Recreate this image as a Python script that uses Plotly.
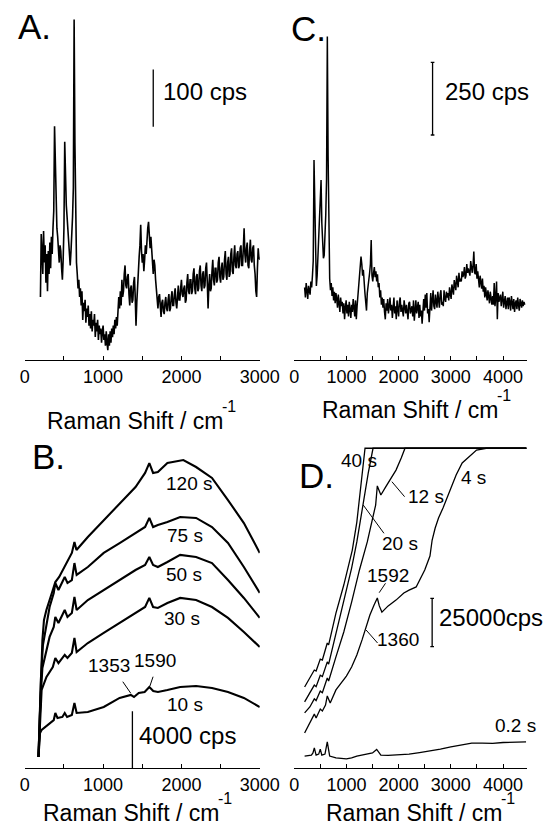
import plotly.graph_objects as go

FONT = "Liberation Sans, Arial, sans-serif"
W, H = 559, 829

# ---------------- Panel A: spectrum (cps), 200-3000 cm-1 every 10 cm-1 ----------------
A_counts = [
    110, 220, 190, 150, 225, 170, 200, 135, 185, 120,
    190, 150, 205, 160, 215, 185, 230, 260, 408, 330,
    260, 230, 215, 195, 170, 200, 190, 160, 140, 175,
    230, 381, 300, 270, 250, 230, 210, 180, 165, 190,
    215, 250, 300, 594, 380, 230, 170, 150, 125, 140,
    110, 125, 95, 120, 70, 100, 85, 105, 65, 90,
    75, 95, 60, 80, 55, 85, 50, 70, 60, 80,
    40, 65, 50, 70, 35, 60, 45, 55, 30, 50,
    60, 35, 45, 25, 50, 30, 17, 45, 25, 50,
    30, 55, 40, 60, 45, 70, 55, 75, 60, 85,
    110, 90, 120, 95, 140, 110, 120, 150, 165, 130,
    125, 145, 150, 115, 95, 125, 130, 100, 105, 135,
    145, 110, 60, 100, 135, 160, 180, 200, 236, 190,
    170, 185, 155, 175, 200, 185, 215, 230, 241, 225,
    195, 215, 185, 170, 150, 175, 165, 140, 120, 105,
    90, 110, 115, 95, 75, 100, 105, 85, 80, 100,
    110, 90, 85, 105, 115, 85, 90, 110, 120, 95,
    95, 115, 125, 100, 90, 110, 130, 105, 105, 125,
    140, 115, 110, 125, 130, 100, 105, 135, 150, 120,
    115, 140, 140, 115, 120, 150, 160, 125, 115, 145,
    150, 120, 125, 155, 165, 130, 120, 150, 155, 125,
    130, 160, 170, 135, 90, 130, 150, 120, 125, 155,
    175, 140, 130, 160, 160, 135, 140, 170, 180, 145,
    135, 160, 170, 140, 145, 175, 190, 150, 140, 170,
    180, 145, 150, 185, 195, 155, 150, 180, 200, 165,
    160, 185, 190, 160, 165, 195, 200, 165, 165, 195,
    230, 185, 170, 195, 205, 165, 160, 190, 210, 175,
    170, 195, 200, 165, 150, 120, 110, 160, 195, 180,
    175,
]
A_shift = list(range(200, 3001, 10))

# ---------------- Panel C: spectrum (cps), 200-4415 cm-1 every 15 cm-1 ----------------
C_counts = [
    250, 215, 265, 230, 210, 255, 240, 225, 270, 250,
    290, 340, 688, 520, 330, 255, 290, 350, 420, 480,
    560, 619, 470, 380, 350, 360, 420, 500, 620, 1113,
    700, 360, 280, 240, 265, 220, 250, 205, 235, 195,
    230, 210, 180, 225, 195, 165, 215, 185, 200, 160,
    195, 140, 180, 205, 160, 190, 150, 200, 175, 145,
    190, 165, 210, 170, 150, 205, 140, 185, 225, 255,
    300, 335, 356, 330, 290, 310, 250, 230, 200, 170,
    230, 250, 270, 300, 330, 413, 290, 270, 300, 320,
    285, 305, 270, 295, 250, 265, 215, 240, 190, 215,
    180, 210, 165, 140, 195, 170, 210, 160, 185, 215,
    170, 190, 145, 200, 215, 160, 185, 140, 205, 175,
    150, 200, 215, 165, 190, 170, 150, 205, 180, 160,
    190, 165, 140, 195, 200, 160, 175, 185, 150, 205,
    135, 185, 205, 160, 175, 200, 145, 190, 150, 170,
    125, 195, 210, 170, 225, 180, 230, 160, 175, 130,
    200, 230, 170, 215, 240, 185, 175, 225, 200, 180,
    235, 195, 180, 225, 240, 190, 200, 185, 240, 210,
    200, 235, 215, 230, 205, 250, 220, 210, 260, 230,
    225, 275, 245, 240, 290, 255, 250, 300, 270, 280,
    270, 305, 285, 295, 320, 280, 290, 330, 300, 315,
    305, 290, 340, 310, 300, 325, 373, 300, 295, 330,
    280, 305, 275, 250, 290, 260, 245, 280, 235, 255,
    215, 250, 230, 205, 240, 220, 195, 235, 215, 190,
    220, 190, 265, 185, 215, 270, 140, 230, 200, 215,
    225, 185, 205, 235, 180, 210, 220, 175, 200, 215,
    175, 215, 200, 170, 220, 195, 175, 210, 165, 195,
    205, 175, 215, 190, 170, 210, 200, 180, 205, 185,
    200, 190,
]
C_shift = list(range(200, 4416, 15))

# ---------------- Panel B: time series (cps) ----------------
B10_shift = [175, 195, 215, 317, 370, 390, 418, 480, 510, 540, 601, 634, 662, 805, 1008,
             1211, 1353, 1394, 1455, 1530, 1590, 1640, 1700, 1821, 1984, 2187, 2390, 2594, 2797, 3000]
B10_counts = [780, 2470, 2680, 3170, 3380, 3880, 3520, 3600, 3880, 3600, 3740, 4580, 3880, 3950, 4300,
              4940, 5150, 5010, 5290, 5360, 5710, 5430, 5360, 5500, 5710, 5780, 5640, 5360, 4940, 4300]

B30_shift = [175, 192, 215, 277, 358, 390, 430, 510, 545, 601, 634, 662, 805, 1008, 1211,
             1414, 1536, 1590, 1638, 1699, 1821, 1984, 2187, 2390, 2594, 2797, 3000]
B30_counts = [780, 3030, 5500, 6420, 7120, 7760, 7400, 7970, 7760, 8110, 9170, 8180, 8810, 9520, 10220,
              10930, 11350, 11990, 11350, 11280, 11630, 11990, 11840, 11350, 10580, 9590, 8530]

B50_shift = [175, 200, 225, 317, 370, 390, 430, 510, 545, 601, 634, 662, 805, 1008, 1211,
             1414, 1536, 1590, 1638, 1699, 1821, 1984, 2187, 2390, 2594, 2797, 3000]
B50_counts = [780, 4790, 7050, 9240, 9940, 10650, 10220, 11140, 10650, 10930, 12060, 11140, 11840, 12550, 13250,
              13960, 14310, 14880, 14310, 14170, 14520, 15020, 14880, 14450, 13250, 11990, 10580]

B75_shift = [175, 205, 232, 317, 370, 390, 430, 510, 545, 601, 634, 662, 805, 1008, 1211,
             1414, 1536, 1590, 1638, 1699, 1821, 1984, 2187, 2390, 2594, 2797, 3000]
B75_counts = [780, 6200, 8670, 11350, 12340, 13040, 12550, 13470, 13040, 13250, 14450, 13610, 14170, 15160, 15860,
              16570, 16990, 17630, 16990, 17130, 17340, 17700, 17630, 16990, 15860, 14170, 12340]

B120_shift = [175, 200, 225, 245, 276, 358, 390, 439, 510, 545, 601, 634, 660, 805, 1008,
              1211, 1414, 1536, 1590, 1638, 1699, 1821, 2024, 2187, 2390, 2594, 2797, 3000]
B120_counts = [780, 4790, 9020, 10430, 11140, 12550, 13110, 13470, 14170, 14520, 15160, 15930, 15370, 16290, 17480,
               18680, 19810, 20800, 21500, 20800, 20870, 21500, 21710, 21220, 20450, 18890, 17270, 15160]

# ---------------- Panel D: time series (cps), detector saturates at the top ----------------
D02_shift = [200, 330, 360, 386, 420, 470, 500, 530, 590, 634, 680, 800, 1000, 1100, 1200, 1300, 1400,
             1500, 1580, 1660, 1800, 2000, 2200, 2400, 2600, 2800, 3000, 3200, 3400, 3600, 3800, 4000, 4200, 4440]
D02_counts = [6200, 6700, 7800, 10400, 6700, 7200, 9800, 6700, 7200, 13500, 6200, 5200, 4700, 5200, 6200, 6700, 7000,
              7800, 9600, 6700, 6500, 6700, 7200, 8000, 8800, 9800, 10900, 11900, 12900, 12900, 12700, 13200, 13500, 13500]

D4_shift = [200, 300, 386, 420, 500, 540, 600, 634, 690, 800, 1000, 1100, 1200, 1300, 1360, 1450, 1530, 1592,
            1630, 1680, 1800, 1950, 2100, 2200, 2336, 2400, 2500, 2600, 2642, 2700, 2764, 2850, 2950, 3101,
            3217, 3376, 3492, 3600, 3676, 4450]
D4_counts = [18100, 23300, 27900, 25900, 30500, 29500, 32600, 37300, 33600, 40400, 47600, 52300, 58500, 66300,
             71400, 79200, 84400, 88000, 83900, 80700, 83900, 86900, 90600, 92100, 93700, 97300, 102500, 109700,
             118000, 124200, 129400, 134600, 141300, 151700, 157900, 162000, 164600, 165100, 165500, 165500]

D12_shift = [200, 300, 386, 420, 500, 540, 634, 660, 800, 950, 1100, 1250, 1400, 1500, 1560, 1592, 1630,
             1660, 1750, 1850, 1950, 2050, 2122, 4450]
D12_counts = [28500, 31600, 35800, 34900, 39800, 39000, 46600, 45000, 57500, 70400, 85900, 102500, 117000,
              128400, 136100, 146000, 142900, 141300, 145400, 150100, 154200, 160500, 165500, 165500]

D20_shift = [200, 300, 386, 420, 500, 540, 634, 660, 800, 950, 1100, 1200, 1296, 1327, 1419, 1510, 4450]
D20_counts = [34200, 38800, 42900, 42100, 48000, 47300, 54900, 53800, 69900, 85900, 103500, 117000, 133500,
              137200, 152700, 165500, 165500]

D40_shift = [200, 300, 386, 420, 500, 540, 634, 660, 800, 950, 1113, 1200, 1266, 1320, 1357, 4450]
D40_counts = [41900, 46600, 50700, 50200, 56400, 55900, 64700, 63700, 80200, 94700, 112800, 127300, 142300,
              155300, 165500, 165500]


def px(x):
    return x / W


def py(y):
    return 1 - y / H


fig = go.Figure()


def spectrum(x, y, xa, ya, width):
    fig.add_trace(go.Scatter(x=x, y=y, mode="lines", xaxis=xa, yaxis=ya,
                             line=dict(color="black", width=width),
                             hoverinfo="skip", showlegend=False))


spectrum(A_shift, A_counts, "x", "y", 1.6)
spectrum(C_shift, C_counts, "x2", "y2", 1.5)
for xs, ys in [(B10_shift, B10_counts), (B30_shift, B30_counts), (B50_shift, B50_counts),
               (B75_shift, B75_counts), (B120_shift, B120_counts)]:
    spectrum(xs, ys, "x3", "y3", 2.1)
for xs, ys in [(D02_shift, D02_counts), (D4_shift, D4_counts), (D12_shift, D12_counts),
               (D20_shift, D20_counts), (D40_shift, D40_counts)]:
    spectrum(xs, ys, "x4", "y4", 1.3)


def xcfg(domain, rng, anchor):
    return dict(domain=domain, range=rng, anchor=anchor, showline=True, linecolor="black",
                linewidth=1.3, ticks="inside", ticklen=4, tickwidth=1.3, tickcolor="black",
                tick0=0, dtick=1000,
                minor=dict(dtick=500, ticks="inside", ticklen=4, tickwidth=1.3,
                           tickcolor="black", showgrid=False),
                showgrid=False, zeroline=False, fixedrange=True,
                tickfont=dict(family=FONT, size=18, color="black"))


def ycfg(domain, rng, anchor):
    return dict(domain=domain, range=rng, anchor=anchor, visible=False, showgrid=False,
                zeroline=False, fixedrange=True)


left_dom = [px(20.7), px(266.7)]
right_dom = [px(302.7), px(546.0)]
top_dom = [py(360), 1.0]
bot_dom = [py(768), py(430)]

fig.update_layout(
    width=W, height=H, margin=dict(l=0, r=0, t=0, b=0),
    paper_bgcolor="white", plot_bgcolor="rgba(0,0,0,0)",
    font=dict(family=FONT, color="black"),
    xaxis=xcfg(left_dom, [0, 3000], "y"),
    yaxis=ycfg(top_dom, [0, 628.2], "x"),
    xaxis2=xcfg(right_dom, [0, 4450], "y2"),
    yaxis2=ycfg(top_dom, [0, 1238.4], "x2"),
    xaxis3=xcfg(left_dom, [0, 3000], "y3"),
    yaxis3=ycfg(bot_dom, [0, 23829], "x3"),
    xaxis4=xcfg(right_dom, [0, 4450], "y4"),
    yaxis4=ycfg(bot_dom, [0, 174949], "x4"),
)

shapes = []


def seg(x0, y0, x1, y1, xref, yref, width=1.3):
    shapes.append(dict(type="line", x0=x0, y0=y0, x1=x1, y1=y1, xref=xref, yref=yref,
                       line=dict(color="black", width=width)))


# intensity scale bars
seg(1640, 407, 1640, 507, "x", "y")
seg(2650, 774, 2650, 1024, "x2", "y2")
seg(2615, 774, 2685, 774, "x2", "y2")
seg(2615, 1024, 2685, 1024, "x2", "y2")
seg(1374, 0, 1374, 4000, "x3", "y3")
seg(2642, 62800, 2642, 87800, "x4", "y4")
seg(2607, 62800, 2677, 62800, "x4", "y4")
seg(2607, 87800, 2677, 87800, "x4", "y4")

# leader lines for the band and time labels
for (x0, y0, x1, y1) in [(123.3, 681.7, 131.7, 693.3), (155.0, 676.7, 151.7, 686.0),
                         (405.0, 481.7, 418.3, 496.7), (375.0, 505.0, 396.7, 533.3),
                         (398.3, 583.3, 391.7, 592.7), (378.0, 630.0, 390.0, 643.0)]:
    seg(px(x0), py(y0), px(x1), py(y1), "paper", "paper", 1.0)

fig.update_layout(shapes=shapes)

annotations = []


def label(text, x, y, size, xanchor="center", yanchor="middle", pad=1):
    annotations.append(dict(text=text, x=px(x), y=py(y), xref="paper", yref="paper",
                            showarrow=False, xanchor=xanchor, yanchor=yanchor, borderpad=pad,
                            font=dict(family=FONT, size=size, color="black")))


# panel letters
label("A.", 12, 26, 35, "left")
label("C.", 297, 28, 35, "left")
label("B.", 26, 456, 35, "left")
label("D.", 306, 475, 35, "left")

# axis titles: main text plus a raised "-1" exponent set just after it
TITLE_SIZE = 23
EXP_SIZE = 16
TITLE_WIDTH = 7.669 * TITLE_SIZE  # advance width of "Raman Shift / cm"
for left, mid in [(43, 421), (331, 410), (39, 813), (335, 813)]:
    label("Raman Shift / cm", left, mid, TITLE_SIZE, "left", pad=0)
    label("-1", left + TITLE_WIDTH + 7, mid - 15, EXP_SIZE, "left", pad=0)

# scale bar labels
label("100 cps", 163, 92, 24, "left")
label("250 cps", 458, 92, 24, "left")
label("4000 cps", 138, 735, 24, "left")
label("25000cps", 452, 617, 24, "left")

# panel B labels
label("120 s", 193, 483, 19)
label("75 s", 188, 535, 19)
label("50 s", 187, 574, 19)
label("30 s", 185, 618, 19)
label("10 s", 188, 704, 19)
label("1353", 109, 665, 19)
label("1590", 157, 660, 19)

# panel D labels
label("40 s", 371, 461, 19)
label("12 s", 441, 496, 19)
label("4 s", 490, 477, 19)
label("20 s", 414, 543, 19)
label("1592", 401, 575, 19)
label("1360", 411, 639, 19)
label("0.2 s", 558, 725, 19, "right")

fig.update_layout(annotations=annotations)

fig.write_html("out.html")
